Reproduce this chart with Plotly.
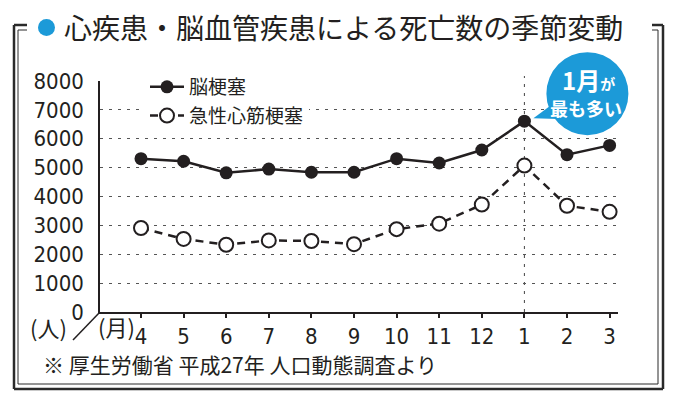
import plotly.graph_objects as go

months = ["4", "5", "6", "7", "8", "9", "10", "11", "12", "1", "2", "3"]
stroke = [5310, 5220, 4820, 4950, 4840, 4840, 5310, 5160, 5610, 6610, 5450, 5770]
ami = [2910, 2530, 2330, 2480, 2460, 2350, 2870, 3060, 3720, 5070, 3680, 3470]
yticks = [0, 1000, 2000, 3000, 4000, 5000, 6000, 7000, 8000]
series_names = ["脳梗塞", "急性心筋梗塞"]

W, H = 679, 397          # window size (reference pixels)
OFF = 8                  # default page body margin
L, R, T, B = 100, 618, 81, 312  # plot area in reference pixels
XR = [(L - 141) / 42.6, (R - 141) / 42.6]
YR = [0, 8000]

def px(x):
    return (x - L) / (R - L)

def py(y):
    return (B - y) / (B - T)

xs = list(range(len(months)))
NUM_FONT = "Liberation Sans Narrow, DejaVu Sans Condensed, Liberation Sans, sans-serif"
JP_FONT = "Noto Sans CJK JP, sans-serif"
INK = "#231f20"
BLUE = "#1c9ad8"

fig = go.Figure()
fig.add_trace(go.Scatter(
    x=xs, y=stroke, name=series_names[0], mode="lines+markers", legendgroup="a",
    line=dict(color=INK, width=2.5),
    marker=dict(color=INK, size=13, symbol="circle"),
))
fig.add_trace(go.Scatter(
    x=xs, y=ami, name=series_names[1], mode="lines+markers", legendgroup="b",
    line=dict(color=INK, width=2.5, dash="8px,6px"),
    marker=dict(color="white", size=14, symbol="circle", line=dict(color=INK, width=2)),
))

shapes = []
def seg(x0, y0, x1, y1, w, c="#2a2a2a"):
    shapes.append(dict(type="line", xref="paper", yref="paper",
                       x0=px(x0), y0=py(y0), x1=px(x1), y1=py(y1),
                       line=dict(color=c, width=w), layer="above"))

# frame: outer thick + inner thin
seg(14, 25, 14, 389, 2.5)
seg(14, 389, 663, 389, 2.5)
seg(663, 25, 663, 389, 2.5)
seg(14, 25, 27, 25, 2.5)
seg(652, 25, 663, 25, 2.5)
seg(18, 30, 18, 384, 1)
seg(18, 384, 658, 384, 1)
seg(658, 30, 658, 384, 1)
seg(18, 30, 27, 30, 1)
seg(652, 30, 658, 30, 1)

# blue title dot
shapes.append(dict(type="circle", xref="paper", yref="paper",
                   x0=px(38), x1=px(55), y0=py(36), y1=py(19),
                   fillcolor=BLUE, line=dict(width=0)))

# slash between (人) and (月)
seg(73, 340, 100, 312, 1.5, INK)

# vertical dashed line at January
jan = months.index("1")
shapes.append(dict(type="line", xref="x", yref="paper", x0=jan, x1=jan,
                   y0=0, y1=py(76), line=dict(color="#444", width=1, dash="3px,6px"),
                   layer="below"))

# speech bubble anchored on January peak (pixel offsets, paper refs to avoid clipping)
jv = stroke[jan]
jx = (jan - XR[0]) / (XR[1] - XR[0])
jy = (jv - YR[0]) / (YR[1] - YR[0])
shapes.append(dict(type="path", xref="paper", yref="paper", xsizemode="pixel", ysizemode="pixel",
                   xanchor=jx, yanchor=jy,
                   path="M 9,3 L 32,20 L 42,2 Z",
                   fillcolor=BLUE, line=dict(width=0), layer="above"))
shapes.append(dict(type="circle", xref="paper", yref="paper", xsizemode="pixel", ysizemode="pixel",
                   xanchor=jx, yanchor=jy,
                   x0=22, x1=104, y0=-14, y1=69,
                   fillcolor=BLUE, line=dict(width=0), layer="above"))

annotations = [
    dict(xref="paper", yref="paper", x=px(62), y=py(27), xanchor="left", yanchor="middle",
         text="心疾患・脳血管疾患による死亡数の季節変動", showarrow=False,
         font=dict(family=JP_FONT, size=28, color=INK)),
    dict(xref="paper", yref="paper", x=px(41), y=py(364), xanchor="left", yanchor="middle",
         text="※ 厚生労働省 平成27年 人口動態調査より", showarrow=False,
         font=dict(family=JP_FONT, size=21, color=INK)),
    dict(xref="paper", yref="paper", x=px(48), y=py(327), xanchor="center", yanchor="middle",
         text="(人)", showarrow=False, font=dict(family=JP_FONT, size=22, color=INK)),
    dict(xref="paper", yref="paper", x=px(116), y=py(326), xanchor="center", yanchor="middle",
         text="(月)", showarrow=False, font=dict(family=JP_FONT, size=22, color=INK)),
    dict(xref="x", yref="y", x=jan, y=jv, xshift=64, yshift=42, xanchor="center", yanchor="middle",
         text="<b>1月<span style='font-size:15px'>が</span></b>", showarrow=False,
         font=dict(family=JP_FONT, size=24, color="white")),
    dict(xref="x", yref="y", x=jan, y=jv, xshift=62, yshift=13, xanchor="center", yanchor="middle",
         text="<b>最も多い</b>", showarrow=False,
         font=dict(family=JP_FONT, size=18, color="white")),
]

fig.update_layout(
    width=W - OFF, height=H - OFF,
    margin=dict(l=L - OFF, r=W - R, t=T - OFF, b=H - B, pad=0, autoexpand=False),
    paper_bgcolor="white", plot_bgcolor="white",
    showlegend=True,
    legend=dict(x=px(145), y=py(68), xanchor="left", yanchor="top",
                bgcolor="white", borderwidth=0, tracegroupgap=1,
                font=dict(family=JP_FONT, size=19, color=INK),
                itemwidth=34),
    shapes=shapes,
    annotations=annotations,
    xaxis=dict(range=XR, tickmode="array", automargin=False,
               tickvals=xs, ticktext=months, showgrid=False, zeroline=False,
               showline=True, linecolor=INK, linewidth=2,
               ticks="outside", ticklen=4, tickwidth=1.5, tickcolor=INK,
               tickfont=dict(family=NUM_FONT, size=22, color=INK)),
    yaxis=dict(range=YR, tickmode="array", tickvals=yticks, automargin=False,
               showgrid=True, gridcolor="#555", gridwidth=1, griddash="3px,6px",
               zeroline=False, showline=True, linecolor=INK, linewidth=1.5,
               ticks="", ticklabelstandoff=10,
               tickfont=dict(family=NUM_FONT, size=22, color=INK)),
)

fig.write_html("out.html")
